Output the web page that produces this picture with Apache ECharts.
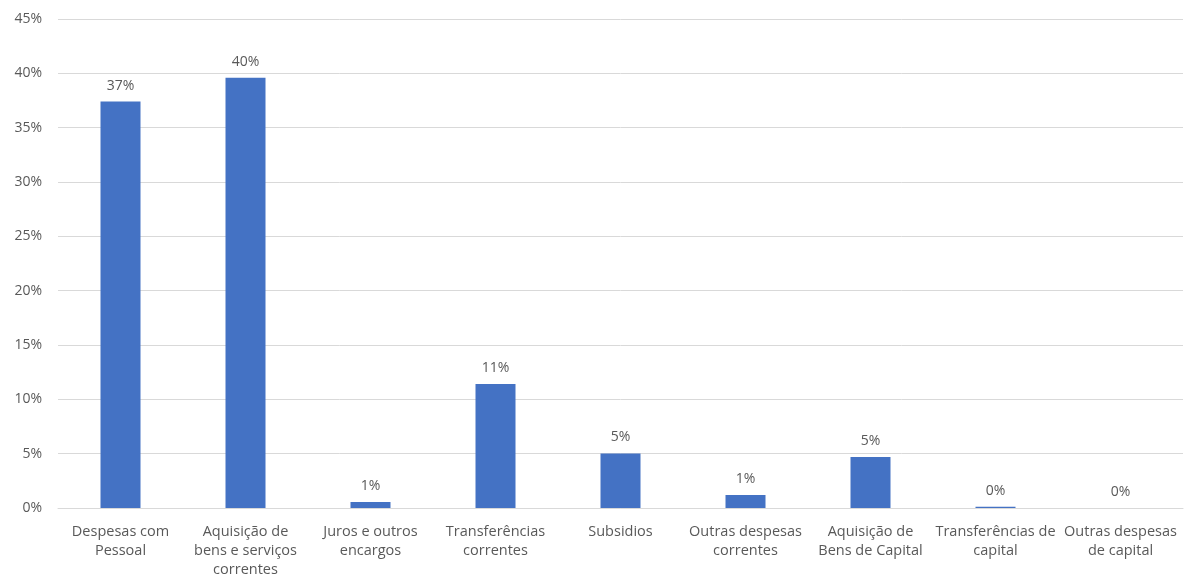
<!DOCTYPE html>
<html>
<head>
<meta charset="utf-8">
<script src="https://cdn.jsdelivr.net/npm/echarts@6/dist/echarts.min.js"></script>
<style>
  html, body { margin: 0; padding: 0; background: #ffffff; }
  #chart { width: 1184px; height: 579px; }
</style>
</head>
<body>
<div id="chart"></div>
<script>
// Expense categories (line breaks where the axis labels wrap)
const categories = [
  'Despesas com\nPessoal',
  'Aquisição de\nbens e serviços\ncorrentes',
  'Juros e outros\nencargos',
  'Transferências\ncorrentes',
  'Subsidios',
  'Outras despesas\ncorrentes',
  'Aquisição de\nBens de Capital',
  'Transferências de\ncapital',
  'Outras despesas\nde capital'
];

// Share of total expenditure, in percent
const shares = [37.4, 39.6, 0.55, 11.4, 5.02, 1.2, 4.7, 0.12, 0];

// Value axis ticks (percent)
const yMin = 0;
const yMax = 45;
const yStep = 5;

const textColor = '#595959';
const fontFamily = '"Open Sans", "Noto Sans", "Liberation Sans", sans-serif';

const chart = echarts.init(document.getElementById('chart'), null, { renderer: 'canvas' });

chart.setOption({
  animation: false,
  textStyle: { fontFamily: fontFamily },
  grid: { left: 58, right: 1, top: 19, bottom: 70 },
  xAxis: {
    type: 'category',
    data: categories,
    axisLine: { lineStyle: { color: '#d9d9d9', width: 1 } },
    axisTick: { show: false },
    axisLabel: {
      color: textColor,
      fontSize: 14.5,
      lineHeight: 19,
      margin: 14,
      interval: 0
    }
  },
  yAxis: {
    type: 'value',
    min: yMin,
    max: yMax,
    interval: yStep,
    axisLine: { show: false },
    axisTick: { show: false },
    splitLine: { lineStyle: { color: '#d9d9d9', width: 1 } },
    axisLabel: {
      color: textColor,
      fontSize: 14,
      margin: 16,
      formatter: v => v + '%'
    }
  },
  series: [{
    type: 'bar',
    data: shares,
    barWidth: 40,
    itemStyle: { color: '#4472c4' },
    label: {
      show: true,
      position: 'top',
      distance: 9,
      color: textColor,
      fontSize: 14,
      formatter: p => Math.round(p.value) + '%'
    }
  }]
});
</script>
</body>
</html>
